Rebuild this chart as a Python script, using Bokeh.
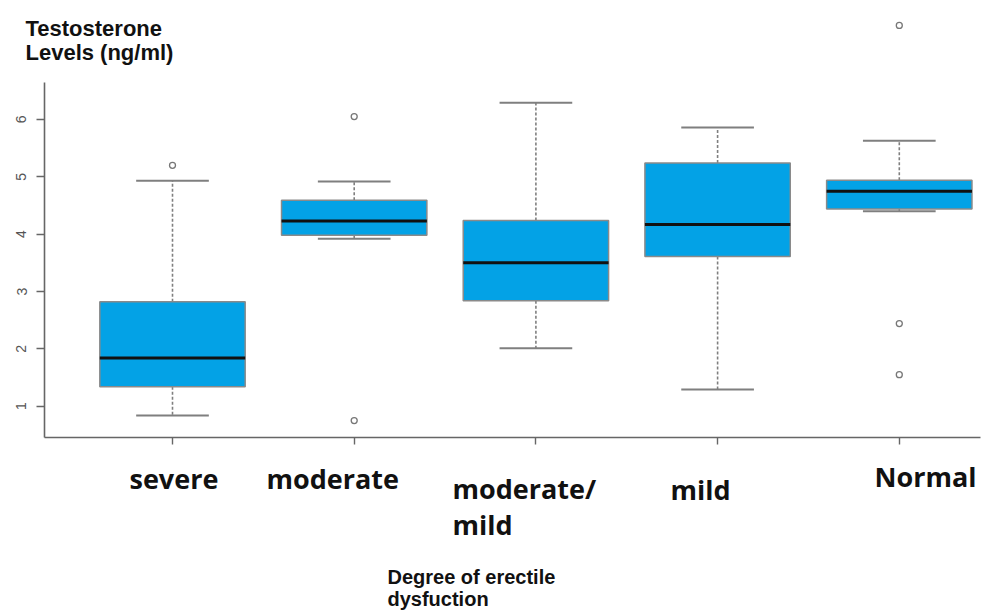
from bokeh.plotting import figure
from bokeh.models import Range1d, FixedTicker, Label
from bokeh.embed import file_html
from bokeh.resources import INLINE

# ---- data ----
categories = ["severe", "moderate", "moderate/\nmild", "mild", "Normal"]
positions = [1, 2, 3, 4, 5]
q1 = [1.34, 3.98, 2.84, 3.61, 4.44]
median = [1.84, 4.23, 3.50, 4.17, 4.75]
q3 = [2.82, 4.59, 4.24, 5.24, 4.94]
whisker_low = [0.84, 3.92, 2.01, 1.29, 4.40]
whisker_high = [4.93, 4.92, 6.29, 5.86, 5.63]
outlier_x = [1, 2, 2, 5, 5, 5]
outlier_y = [5.20, 6.05, 0.75, 7.64, 2.44, 1.55]
y_ticks = [1, 2, 3, 4, 5, 6]

# ---- geometry: the frame covers the whole canvas ----
W, H = 982, 613
X_PER_PX = 1 / 181.7     # data units per pixel (x)
Y_PER_PX = 1 / 57.35     # data units per pixel (y)
X0 = 1 - 172 * X_PER_PX
X1 = X0 + W * X_PER_PX
Y1 = 1 + 405.7 * Y_PER_PX
Y0 = Y1 - H * Y_PER_PX

def px_x(px):
    return X0 + px * X_PER_PX

def px_y(py):
    return Y1 - py * Y_PER_PX

p = figure(width=W, height=H, output_backend="svg", toolbar_location=None,
           x_range=Range1d(X0, X1), y_range=Range1d(Y0, Y1),
           min_border_left=0, min_border_right=0,
           min_border_top=0, min_border_bottom=0)
p.outline_line_color = None
p.xgrid.grid_line_color = None
p.ygrid.grid_line_color = None
p.background_fill_color = "white"
p.border_fill_color = "white"

BOXW = 0.8
CAPW = 0.4
GRAY = "#7f7f7f"

# whiskers (dashed)
p.segment(x0=positions, y0=q3, x1=positions, y1=whisker_high,
          line_color=GRAY, line_width=1.6, line_dash="3 2")
p.segment(x0=positions, y0=q1, x1=positions, y1=whisker_low,
          line_color=GRAY, line_width=1.6, line_dash="3 2")
# caps
p.segment(x0=[x - CAPW / 2 for x in positions], y0=whisker_high,
          x1=[x + CAPW / 2 for x in positions], y1=whisker_high,
          line_color=GRAY, line_width=2)
p.segment(x0=[x - CAPW / 2 for x in positions], y0=whisker_low,
          x1=[x + CAPW / 2 for x in positions], y1=whisker_low,
          line_color=GRAY, line_width=2)
# boxes
p.vbar(x=positions, width=BOXW, bottom=q1, top=q3,
       fill_color="#03A2E6", line_color="#8a8a8a", line_width=1.5)
# medians
p.segment(x0=[x - BOXW / 2 for x in positions], y0=median,
          x1=[x + BOXW / 2 for x in positions], y1=median,
          line_color="#111111", line_width=3)
# outliers
p.scatter(x=outlier_x, y=outlier_y, marker="circle", size=6,
          fill_color="white", line_color="#777777", line_width=1.3)

# axes (placed at fixed locations inside the canvas)
p.yaxis.fixed_location = px_x(44)
p.yaxis.ticker = FixedTicker(ticks=y_ticks)
p.yaxis.bounds = (px_y(437), 6.64)
p.yaxis.major_label_orientation = "parallel"
p.yaxis.major_label_text_font = "Liberation Sans"
p.yaxis.major_label_text_font_size = "14px"
p.yaxis.major_label_text_color = "#555555"
p.yaxis.major_tick_out = 8
p.yaxis.major_tick_in = 0
p.yaxis.minor_tick_line_color = None
p.yaxis.major_label_standoff = 10
p.yaxis.axis_line_color = "#666666"
p.yaxis.axis_line_width = 1.6
p.yaxis.major_tick_line_color = "#666666"
p.yaxis.major_tick_line_width = 1.4

p.xaxis.fixed_location = px_y(437)
p.xaxis.ticker = FixedTicker(ticks=positions)
p.xaxis.bounds = (px_x(44), px_x(980))
p.xaxis.major_label_text_color = None
p.xaxis.major_tick_out = 7
p.xaxis.major_tick_in = 0
p.xaxis.minor_tick_line_color = None
p.xaxis.axis_line_color = "#666666"
p.xaxis.axis_line_width = 1.6
p.xaxis.major_tick_line_color = "#666666"
p.xaxis.major_tick_line_width = 1.4

def add_label(text, px, py, font, size):
    # py is the wanted baseline; correct for how the text is placed
    p.add_layout(Label(x=px_x(px), y=px_y(py - 0.38 * size), text=text,
                       text_font=font, text_font_size=f"{size}px",
                       text_font_style="bold", text_color="#111111",
                       text_align="left", text_baseline="alphabetic"))

# y-axis title
add_label("Testosterone", 25, 36, "Liberation Sans", 22)
add_label("Levels (ng/ml)", 25, 60, "Liberation Sans", 22)

# category labels (as positioned in the reference)
cat_font = "Open Sans"
cat_size = 27
cat_lines = [c.split("\n") for c in categories]
add_label(cat_lines[0][0], 129, 488, cat_font, cat_size)
add_label(cat_lines[1][0], 266, 488, cat_font, cat_size)
add_label(cat_lines[2][0], 452, 498, cat_font, cat_size)
add_label(cat_lines[2][1], 452, 534, cat_font, cat_size)
add_label(cat_lines[3][0], 670, 499, cat_font, cat_size)
add_label(cat_lines[4][0], 874, 486, cat_font, cat_size)

# x-axis title
add_label("Degree of erectile", 387, 584, "Liberation Sans", 20)
add_label("dysfuction", 387, 606, "Liberation Sans", 20)

open("out.html", "w").write(file_html(p, INLINE))
